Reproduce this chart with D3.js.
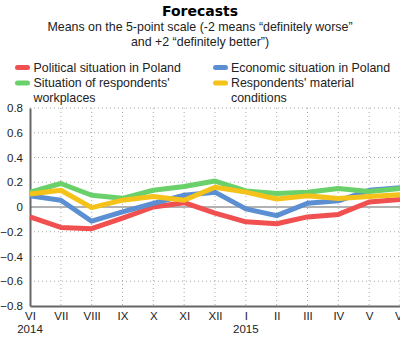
<!DOCTYPE html>
<html>
<head>
<meta charset="utf-8">
<script src="https://cdn.jsdelivr.net/npm/d3@7"></script>
<style>
  body { margin: 0; background: #fff; }
  svg { display: block; font-family: "Liberation Sans", Arial, sans-serif; }
</style>
</head>
<body>
<svg id="chart" width="400" height="353"></svg>
<script>
// months VI 2014 .. VI 2015
const months = ['VI','VII','VIII','IX','X','XI','XII','I','II','III','IV','V','VI'];
const years = {0: '2014', 7: '2015'};
const yTicks = [0.8, 0.6, 0.4, 0.2, 0, -0.2, -0.4, -0.6, -0.8];

const political = [-0.08,-0.165,-0.175,-0.09,0.0,0.035,-0.05,-0.12,-0.135,-0.08,-0.06,0.04,0.06];
const economic  = [0.09,0.055,-0.115,-0.04,0.03,0.095,0.12,-0.015,-0.07,0.03,0.05,0.135,0.155];
const workplace = [0.12,0.19,0.095,0.07,0.135,0.165,0.21,0.13,0.11,0.12,0.15,0.125,0.15];
const material  = [0.105,0.135,-0.005,0.055,0.085,0.055,0.16,0.12,0.065,0.09,0.068,0.085,0.1];

const series = [
  {name: 'Political situation in Poland', values: political, color: '#f0504f'},
  {name: 'Economic situation in Poland', values: economic, color: '#5b8fd2'},
  {name: "Situation of respondents' workplaces", values: workplace, color: '#6ad16a'},
  {name: "Respondents' material conditions", values: material, color: '#f5c219'}
];

const svg = d3.select('#chart');
const x = d3.scaleLinear().domain([0, months.length - 1]).range([30, 400]);
const y = d3.scaleLinear().domain([-0.8, 0.8]).range([306, 108]);

// title
svg.append('text').attr('x', 200).attr('y', 15.5).attr('text-anchor', 'middle')
  .attr('font-family', '"DejaVu Sans", sans-serif')
  .attr('font-size', 14).attr('font-weight', 'bold').text('Forecasts');
svg.append('text').attr('x', 200).attr('y', 31).attr('text-anchor', 'middle')
  .attr('font-size', 12.4).attr('fill', '#222').text('Means on the 5-point scale (-2 means \u201cdefinitely worse\u201d');
svg.append('text').attr('x', 200).attr('y', 46).attr('text-anchor', 'middle')
  .attr('font-size', 12.4).attr('fill', '#222').text('and +2 \u201cdefinitely better\u201d)');

// legend
const legendPos = [
  {x: 15, tx: 33.5, y: 67.5, lines: ['Political situation in Poland']},
  {x: 213, tx: 231, y: 67.5, lines: ['Economic situation in Poland']},
  {x: 15, tx: 33.5, y: 83, lines: ["Situation of respondents'", 'workplaces']},
  {x: 213, tx: 231, y: 83, lines: ["Respondents' material", 'conditions']}
];
legendPos.forEach((p, i) => {
  const g = svg.append('g');
  g.append('line').attr('x1', p.x + 2.5).attr('x2', p.x + 12.5).attr('y1', p.y).attr('y2', p.y)
    .attr('stroke', series[i].color).attr('stroke-width', 5).attr('stroke-linecap', 'round');
  p.lines.forEach((t, j) => {
    g.append('text').attr('x', p.tx).attr('y', p.y + 4 + j * 14.5)
      .attr('font-size', 12.4).attr('fill', '#222').text(t);
  });
});

// grid
svg.append('g').selectAll('line').data(yTicks.filter(d => d !== 0 && d !== -0.8)).join('line')
  .attr('x1', 30).attr('x2', 400).attr('y1', d => y(d)).attr('y2', d => y(d))
  .attr('stroke', '#aaa').attr('stroke-dasharray', '1,3');
svg.append('g').selectAll('line').data(d3.range(1, months.length)).join('line')
  .attr('x1', d => x(d)).attr('x2', d => x(d)).attr('y1', y(0.8)).attr('y2', y(-0.8))
  .attr('stroke', '#aaa').attr('stroke-dasharray', '1,3');
svg.append('line').attr('x1', 30).attr('x2', 400).attr('y1', y(0)).attr('y2', y(0))
  .attr('stroke', '#999').attr('stroke-width', 1.5);

// axes
const yAxis = svg.append('g').attr('transform', 'translate(30,0)')
  .call(d3.axisLeft(y).tickValues(yTicks).tickFormat(d => d === 0 ? '0' : d3.format('.1f')(d)).tickSize(0).tickPadding(7));
yAxis.select('.domain').attr('stroke', '#666').attr('stroke-width', 2);
yAxis.selectAll('text').attr('font-size', 11.5).attr('fill', '#222').attr('font-family', null);

const xAxis = svg.append('g').attr('transform', 'translate(0,306)')
  .call(d3.axisBottom(x).tickValues(d3.range(months.length)).tickFormat(i => months[i]).tickSize(0).tickPadding(6));
xAxis.select('.domain').attr('stroke', '#666').attr('stroke-width', 2);
xAxis.selectAll('text').attr('font-size', 11.5).attr('fill', '#222').attr('font-family', null);
Object.entries(years).forEach(([i, t]) => {
  svg.append('text').attr('x', x(+i)).attr('y', 333).attr('text-anchor', 'middle')
    .attr('font-size', 11.5).attr('fill', '#222').text(t);
});

// lines
const line = d3.line().x((d, i) => x(i)).y(d => y(d));
series.forEach(s => {
  svg.append('path').datum(s.values).attr('d', line).attr('fill', 'none')
    .attr('stroke', s.color).attr('stroke-width', 5).attr('stroke-linejoin', 'round');
});
</script>
</body>
</html>
